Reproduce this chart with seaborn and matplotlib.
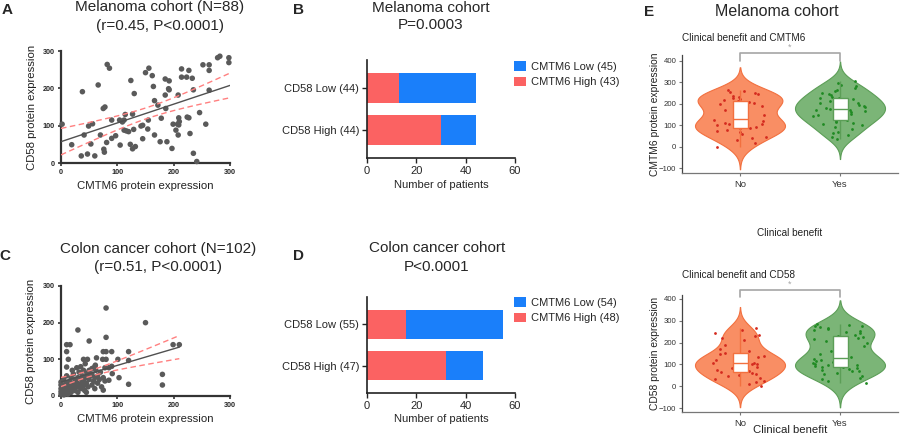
import numpy as np
import pandas as pd
import matplotlib
matplotlib.use("Agg")
import matplotlib.pyplot as plt
import seaborn as sns
from matplotlib.patches import Patch

# ---------------- data ----------------
# Panel A: melanoma cohort (N=88)
mel_cmtm6 = [2, 19, 38, 36, 41, 49, 47, 53, 56, 60, 66, 70, 75, 78, 76, 77, 81, 82, 86, 90,
             90, 97, 104, 105, 109, 112, 112, 114, 116, 120, 123, 124, 127, 127, 130, 132, 129, 142, 145, 145,
             150, 156, 155, 154, 162, 164, 166, 166, 172, 176, 178, 185, 185, 186, 188, 192, 192, 191, 197, 199,
             204, 207, 208, 208, 209, 210, 209, 214, 214, 223, 224, 227, 227, 229, 233, 235, 235, 241, 246, 252,
             257, 263, 263, 263, 278, 282, 298, 298]
mel_cd58 = [104, 49, 191, 19, 75, 99, 24, 51, 105, 19, 209, 75, 146, 150, 37, 29, 55, 264, 254, 115,
            66, 73, 115, 48, 110, 88, 115, 130, 86, 84, 50, 221, 131, 38, 186, 44, 90, 99, 101, 65,
            242, 254, 115, 91, 234, 205, 167, 75, 155, 57, 120, 225, 182, 146, 57, 220, 196, 199, 39, 104,
            88, 104, 75, 182, 121, 111, 102, 252, 230, 230, 123, 248, 121, 79, 227, 196, 26, 4, 135, 263,
            104, 263, 248, 195, 282, 286, 282, 269]

# Panel C: colon cancer cohort (N=102)
col_cmtm6 = [80, 150, 30, 80, 50, 10, 16, 199, 210, 10, 75, 80, 90, 120, 13, 40, 47, 63, 74, 80,
             101, 120, 10, 28, 43, 61, 78, 85, 90, 91, 103, 180, 180, 120, 75, 78, 85,
             0, 0, 0, 0, 0, 2, 3, 4, 5, 5, 6, 8, 8, 10, 10, 12, 12, 14, 15, 16, 18, 18, 20, 20,
             22, 24, 25, 25, 28, 30, 30, 30, 32, 34, 35, 36, 38, 40, 40, 40, 42, 44, 45, 46,
             48, 50, 50, 52, 55, 55, 58, 60, 60, 62, 65, 65, 68, 70, 72, 75, 60, 55, 35, 20, 45]
col_cd58 = [240, 200, 180, 160, 150, 140, 140, 140, 140, 121, 121, 121, 121, 121, 100, 100, 100, 104, 100, 100,
            100, 97, 79, 77, 88, 84, 77, 77, 81, 61, 50, 59, 30, 32, 16, 41, 43,
            5, 12, 20, 30, 38, 8, 25, 15, 3, 45, 30, 10, 20, 35, 55, 5, 25, 15, 40, 28, 10, 50, 20, 35,
            60, 28, 15, 45, 38, 10, 25, 50, 65, 32, 20, 45, 55, 28, 40, 70, 15, 50, 35, 62,
            25, 45, 70, 55, 30, 60, 40, 20, 50, 70, 35, 55, 45, 65, 25, 50, 80, 75, 80, 70, 10]

# Panels B / D: stacked bars
bar_cats_B = ["CD58 Low (44)", "CD58 High (44)"]
bar_high_B = [13, 30]
bar_low_B = [31, 14]
legend_B = ["CMTM6 Low (45)", "CMTM6 High (43)"]

bar_cats_D = ["CD58 Low (55)", "CD58 High (47)"]
bar_high_D = [16, 32]
bar_low_D = [39, 15]
legend_D = ["CMTM6 Low (54)", "CMTM6 High (48)"]

# Panel E: violins (clinical benefit)
groups = ["No", "Yes"]
cmtm6_no = [0, 15, 30, 40, 45, 60, 68, 75, 80, 85, 88, 92, 96, 100, 104, 108, 112, 116, 120, 124,
            132, 150, 170, 185, 192, 198, 202, 206, 210, 214, 218, 222, 226, 232, 238, 245, 250, 255, 260, 265]
cmtm6_yes = [35, 45, 55, 62, 70, 82, 92, 100, 108, 112, 116, 121, 126, 131, 137, 142, 147, 152, 157, 161,
             165, 169, 172, 174, 176, 180, 185, 190, 194, 198, 202, 206, 211, 216, 221, 225, 229, 234, 240, 246,
             252, 259, 266, 273, 281, 290, 298, 305]
cd58_no = [2, 10, 18, 25, 32, 40, 46, 52, 56, 60, 64, 70, 76, 82, 88, 92, 96, 100, 103, 106,
           108, 112, 116, 120, 124, 128, 134, 140, 146, 152, 160, 172, 190, 210, 222, 228, 235, 245, 258, 265]
cd58_yes = [13, 22, 32, 40, 48, 55, 62, 68, 72, 76, 80, 84, 87, 90, 93, 96, 99, 102, 106, 110,
            115, 120, 126, 130, 132, 140, 150, 160, 172, 185, 198, 208, 215, 220, 224, 228,
            236, 242, 248, 254, 258, 262, 266, 270, 274, 278, 281, 284]

# ---------------- style ----------------
sns.set_style("ticks")
plt.rcParams['font.family'] = ['Liberation Sans', 'DejaVu Sans']
np.random.seed(7)

BLUE = "#1A7FFA"
RED = "#FB6262"
NO_FILL, NO_EDGE, NO_DOT = "#F98E64", "#F2703F", "#D42A1E"
YES_FILL, YES_EDGE, YES_DOT = "#7BB577", "#5C9E57", "#1F8A22"

W, H = 900, 443
fig = plt.figure(figsize=(9, 4.43), dpi=100)


def rect(l, t, r, b):
    return [l / W, 1 - b / H, (r - l) / W, (b - t) / H]


def ftext(x, y, s, **kw):
    fig.text(x / W, 1 - y / H, s, ha=kw.pop("ha", "center"), va=kw.pop("va", "center"), **kw)


# ---------------- scatter panels ----------------
def scatter_panel(r, x, y, truncate):
    ax = fig.add_axes(r)
    ax.set_xlim(0, 300)
    ax.set_ylim(0, 300)
    x = np.asarray(x, float)
    y = np.asarray(y, float)
    sns.regplot(x=x, y=y, ax=ax, ci=None, truncate=truncate,
                scatter_kws=dict(s=16, color="#5a5a5a", edgecolor="none", alpha=1, clip_on=False, zorder=3),
                line_kws=dict(color="#505050", lw=1.0, zorder=4))
    # 95% confidence band of the fit, drawn as dashed lines
    n = len(x)
    b1, b0 = np.polyfit(x, y, 1)
    resid = y - (b0 + b1 * x)
    s = np.sqrt(np.sum(resid ** 2) / (n - 2))
    sxx = np.sum((x - x.mean()) ** 2)
    lo, hi = (x.min(), x.max()) if truncate else (0, 300)
    xs = np.linspace(lo, hi, 60)
    se = s * np.sqrt(1 / n + (xs - x.mean()) ** 2 / sxx)
    fit = b0 + b1 * xs
    for sign in (1, -1):
        ax.plot(xs, fit + sign * 1.985 * se, color="#FF8080", lw=1.0, ls=(0, (4, 2.5)), zorder=5)
    ax.set_xticks([0, 100, 200, 300])
    ax.set_yticks([0, 100, 200, 300])
    ax.tick_params(labelsize=5.2, length=2.5, width=1.2, pad=2, color="#333333")
    for t in ax.get_xticklabels() + ax.get_yticklabels():
        t.set_fontweight("bold")
    sns.despine(ax=ax)
    for sp in ("left", "bottom"):
        ax.spines[sp].set_linewidth(1.6)
        ax.spines[sp].set_color("#333333")
    ax.set_xlabel("CMTM6 protein expression", fontsize=8.2, color="#222222")
    ax.set_ylabel("CD58 protein expression", fontsize=8.2, color="#222222")
    return ax


axA = scatter_panel(rect(61, 51, 230, 163), mel_cmtm6, mel_cd58, truncate=False)
axA.xaxis.set_label_coords(0.5, -0.165)
axA.yaxis.set_label_coords(-0.14, 0.5)
ftext(160, 7, "Melanoma cohort (N=88)", fontsize=11)
ftext(160, 26, "(r=0.45, P<0.0001)", fontsize=11)
ftext(7, 10, "A", fontsize=11, fontweight="bold")

axC = scatter_panel(rect(61, 286, 230, 396), col_cmtm6, col_cd58, truncate=True)
axC.xaxis.set_label_coords(0.5, -0.165)
axC.yaxis.set_label_coords(-0.15, 0.5)
ftext(158, 249, "Colon cancer cohort (N=102)", fontsize=11)
ftext(158, 267, "(r=0.51, P<0.0001)", fontsize=11)
ftext(5, 256, "C", fontsize=11, fontweight="bold")


# ---------------- bar panels ----------------
def bar_panel(r, cats, high, low, leg_labels, leg_top):
    ax = fig.add_axes(r)
    df = pd.DataFrame({"cat": cats, "high": high,
                       "total": [h + l for h, l in zip(high, low)]})
    sns.barplot(data=df, y="cat", x="total", color=BLUE, orient="h", width=0.7,
                saturation=1, linewidth=0, ax=ax)
    sns.barplot(data=df, y="cat", x="high", color=RED, orient="h", width=0.7,
                saturation=1, linewidth=0, ax=ax)
    ax.set_xlim(0, 60)
    ax.set_xticks([0, 20, 40, 60])
    ax.set_ylim(1.65, -0.65)
    sns.despine(ax=ax)
    for sp in ("left", "bottom"):
        ax.spines[sp].set_linewidth(1.2)
        ax.spines[sp].set_color("#222222")
    ax.tick_params(labelsize=8, length=3.5, width=1, color="#222222", pad=2)
    ax.set_ylabel("")
    ax.set_xlabel("Number of patients", fontsize=8)
    ax.xaxis.set_label_coords(0.5, -0.22)
    handles = [Patch(facecolor=BLUE, edgecolor="none"), Patch(facecolor=RED, edgecolor="none")]
    fig.legend(handles, leg_labels, loc="upper left",
               bbox_to_anchor=(514 / W, 1 - leg_top / H), frameon=False, fontsize=8,
               handlelength=1.1, handleheight=0.95, handletextpad=0.45,
               labelspacing=0.45, borderpad=0, borderaxespad=0)
    return ax


bar_panel(rect(367, 60, 515, 158), bar_cats_B, bar_high_B, bar_low_B, legend_B, 61)
ftext(431, 8, "Melanoma cohort", fontsize=11)
ftext(431, 25, "P=0.0003", fontsize=11)
ftext(298, 10, "B", fontsize=11, fontweight="bold")

bar_panel(rect(367, 297, 515, 393), bar_cats_D, bar_high_D, bar_low_D, legend_D, 297)
ftext(437, 248, "Colon cancer cohort", fontsize=11)
ftext(437, 267, "P<0.0001", fontsize=11)
ftext(298, 256, "D", fontsize=11, fontweight="bold")


# ---------------- violin panels ----------------
def violin_panel(r, no_vals, yes_vals, ylim, ylabel, br_low, br_high):
    ax = fig.add_axes(r)
    df = pd.DataFrame({"g": ["No"] * len(no_vals) + ["Yes"] * len(yes_vals),
                       "v": list(no_vals) + list(yes_vals)})
    for g, fill, edge, dot in (("No", NO_FILL, NO_EDGE, NO_DOT), ("Yes", YES_FILL, YES_EDGE, YES_DOT)):
        sub = df[df.g == g]
        sns.violinplot(data=sub, x="g", y="v", order=groups, color=fill, linecolor=edge,
                       linewidth=0.8, inner=None, density_norm="width", width=0.9,
                       bw_adjust=1.1, cut=2.6, saturation=1, ax=ax)
        sns.stripplot(data=sub, x="g", y="v", order=groups, color=dot, size=2.0,
                      jitter=0.27, linewidth=0, ax=ax, zorder=3)
        sns.boxplot(data=sub, x="g", y="v", order=groups, color="white", linecolor=edge,
                    width=0.15, showfliers=False, showcaps=False, linewidth=1.0,
                    saturation=1, ax=ax, zorder=4)
    ax.set_xlim(-0.58, 1.58)
    ax.set_ylim(*ylim)
    ax.set_yticks([-100, 0, 100, 200, 300, 400])
    sns.despine(ax=ax)
    ax.spines["left"].set_color("#444444")
    ax.spines["bottom"].set_color("#777777")
    ax.spines["left"].set_linewidth(0.9)
    ax.spines["bottom"].set_linewidth(0.9)
    ax.tick_params(axis="y", labelsize=5.6, length=2.5, width=0.8, color="#777777",
                   labelcolor="#333333", pad=1.5)
    ax.tick_params(axis="x", labelsize=6.8, length=2.5, width=0.8, color="#777777",
                   labelcolor="#333333", pad=2.5)
    ax.set_ylabel(ylabel, fontsize=7.4, color="#222222")
    ax.yaxis.set_label_coords(-0.1, 0.5)
    # significance bracket
    ax.plot([0, 0, 1, 1], [br_low, br_high, br_high, br_low], color="#A6A6A6", lw=1.2,
            clip_on=False, zorder=5)
    ax.text(0.5, br_high + 4, "*", ha="center", va="bottom", fontsize=6.5, color="#A6A6A6")
    return ax


axE1 = violin_panel(rect(682, 55, 898, 173), cmtm6_no, cmtm6_yes, (-123, 428),
                    "CMTM6 protein expression", 402, 438)
axE1.set_xlabel("Clinical benefit", fontsize=7.2, color="#222222")
axE1.xaxis.set_label_coords(0.5, -0.47)
ftext(682, 38, "Clinical benefit and CMTM6", fontsize=7.2, ha="left", color="#222222")

axE2 = violin_panel(rect(682, 295, 898, 412), cd58_no, cd58_yes, (-118, 418),
                    "CD58 protein expression", 409, 441)
axE2.set_xlabel("Clinical benefit", fontsize=8.2, color="#222222")
axE2.xaxis.set_label_coords(0.5, -0.11)
ftext(682, 275, "Clinical benefit and CD58", fontsize=7.2, ha="left", color="#222222")

ftext(777, 12, "Melanoma cohort", fontsize=11.5)
ftext(649, 12, "E", fontsize=11, fontweight="bold")

fig.savefig("out.png", dpi=100)
